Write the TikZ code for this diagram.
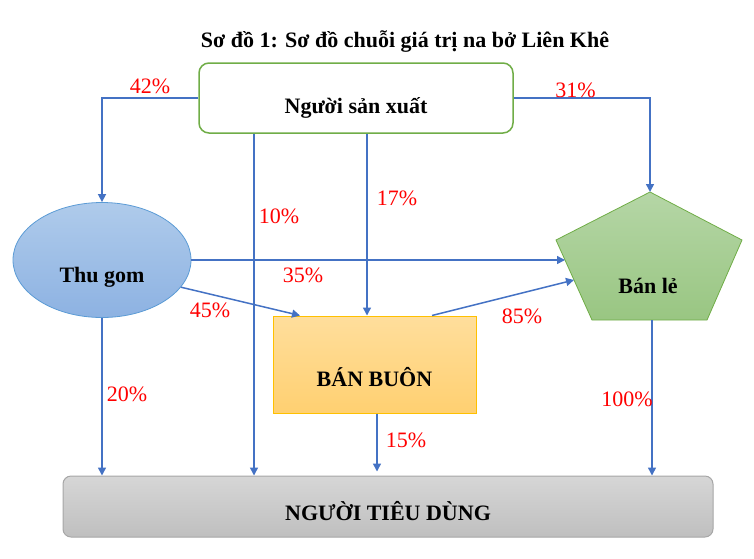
\documentclass[tikz,border=0pt]{standalone}
\usepackage{fontspec}
\setmainfont{Liberation Serif}
\usetikzlibrary{arrows.meta,shapes.geometric}

\definecolor{flowblue}{HTML}{4472C4}
\definecolor{pctred}{HTML}{FF0000}
\definecolor{nsxgreen}{HTML}{70AD47}
\definecolor{tgedge}{HTML}{5B9BD5}
\definecolor{tgtop}{HTML}{AFCBEB}
\definecolor{tgbot}{HTML}{8DB2E2}
\definecolor{bltop}{HTML}{B5D6A6}
\definecolor{blbot}{HTML}{99C682}
\definecolor{bbedge}{HTML}{FFC000}
\definecolor{bbtop}{HTML}{FFDE9C}
\definecolor{bbbot}{HTML}{FFD071}

\begin{document}
\begin{tikzpicture}[x=1pt, y=-1pt, font=\fontsize{22}{26}\selectfont]
   \tikzstyle{txt} = [font=\fontsize{22}{26}\selectfont\bfseries];
   \tikzstyle{pct} = [text=pctred, inner sep=0pt];
   \tikzstyle{flow} = [flowblue, line width=1.5pt,
                       -{Triangle[length=8pt,width=8pt]}];
   \tikzstyle{nsxbox} = [txt, draw=nsxgreen, line width=1.5pt, fill=white,
                         rounded corners=10pt, minimum width=314pt,
                         minimum height=70pt, text height=30pt, text depth=0pt];
   \tikzstyle{tgbox} = [txt, ellipse, draw=tgedge, line width=0.8pt,
                        top color=tgtop, bottom color=tgbot,
                        minimum width=178pt, minimum height=115pt,
                        text height=44pt, text depth=0pt];
   \tikzstyle{bbbox} = [txt, draw=bbedge, line width=1pt,
                        top color=bbtop, bottom color=bbbot,
                        minimum width=203pt, minimum height=97pt,
                        text height=43pt, text depth=0pt];
   \tikzstyle{ntdbox} = [txt, draw=black!35, line width=1pt, rounded corners=8pt,
                         top color=black!16, bottom color=black!25,
                         minimum width=650pt, minimum height=61pt,
                         text height=27pt, text depth=0pt];

   \useasboundingbox (0,0) rectangle (754,558);

   % title
   \node[txt, anchor=base] (title) at (405,47)
     {Sơ đồ 1: Sơ đồ chuỗi giá trị na bở Liên Khê};

   \node[nsxbox] (nsx) at (356,98) {Người sản xuất};
   \node[tgbox] (tg) at (102,260) {Thu gom};
   \node[bbbox] (bb) at (374.5,364.5) {BÁN BUÔN};
   \node[ntdbox] (ntd) at (388,506.5) {NGƯỜI TIÊU DÙNG};

   % Ban le: squashed pentagon
   \coordinate (bltop) at (650,192);
   \coordinate (blin1) at (565,260);
   \coordinate (blin2) at (574,280);
   \coordinate (blbot) at (652,320);
   \path[draw=nsxgreen, line width=0.8pt, top color=bltop, bottom color=blbot]
     (bltop) -- (742,240) -- (707,320) -- (592,320) -- (556,240) -- cycle;
   \node[txt, anchor=base] (bl) at (648,293) {Bán lẻ};

   % flows from Nguoi san xuat
   \draw[flow] (nsx.west) -| (tg.north);
   \draw[flow] (nsx.east) -| (bltop);
   \path[flow] ([xshift=-102pt]nsx.south) edge
     ([xshift=-102pt]nsx.south |- ntd.north);
   \path[flow] ([xshift=11pt]nsx.south) edge
     ([xshift=11pt]nsx.south |- bb.north);

   % flows from Thu gom
   \path[flow] (tg.east) edge (blin1);
   \path[flow] (tg.-19) edge ([xshift=-74.5pt]bb.north);
   \path[flow] (tg.south) edge (tg.south |- ntd.north);

   % flows from Ban buon
   \path[flow] ([xshift=57.5pt]bb.north) edge (blin2);
   \path[flow, shorten >=4pt] ([xshift=2.5pt]bb.south) edge
     ([xshift=2.5pt]bb.south |- ntd.north);

   % flow from Ban le
   \path[flow] (blbot) edge (blbot |- ntd.north);

   % shares
   \node[pct] (p42) at (150,86) {42\%};
   \node[pct] (p31) at (575.5,90) {31\%};
   \node[pct] (p10) at (279,216) {10\%};
   \node[pct] (p17) at (397,198) {17\%};
   \node[pct] (p35) at (303,275) {35\%};
   \node[pct] (p45) at (210,310) {45\%};
   \node[pct] (p85) at (522,316) {85\%};
   \node[pct] (p20) at (127,394) {20\%};
   \node[pct] (p15) at (406,440) {15\%};
   \node[pct] (p100) at (627,399) {100\%};

\end{tikzpicture}
\end{document}
